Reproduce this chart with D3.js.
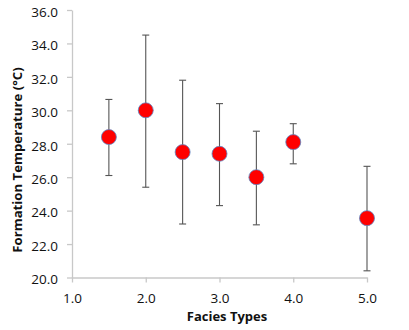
<!DOCTYPE html>
<html><head><meta charset="utf-8">
<script src="https://cdn.jsdelivr.net/npm/d3@7"></script>
<style>body{margin:0;background:#fff}svg{display:block}</style>
</head><body>
<svg id="c" width="409" height="330"></svg>
<script>
const facies = [1.5, 2.0, 2.5, 3.0, 3.5, 4.0, 5.0];
const temps  = [28.4, 30.0, 27.5, 27.4, 26.0, 28.1, 23.55];
const upper  = [30.65, 34.5, 31.8, 30.4, 28.75, 29.2, 26.65];
const lower  = [26.1, 25.4, 23.2, 24.3, 23.15, 26.8, 20.4];
const xTicks = [1.0, 2.0, 3.0, 4.0, 5.0];
const yTicks = [20, 22, 24, 26, 28, 30, 32, 34, 36];

const svg = d3.select("#c");
const font = "'Open Sans', 'Noto Sans', sans-serif";
const x = d3.scaleLinear().domain([1, 5]).range([72, 367]);
const y = d3.scaleLinear().domain([20, 36]).range([277.5, 10]);

const yAxis = svg.append("g").attr("transform", "translate(72,0)")
  .call(d3.axisLeft(y).tickValues(yTicks).tickSize(5).tickSizeOuter(0).tickPadding(9).tickFormat(d3.format(".1f")));
const xAxis = svg.append("g").attr("transform", "translate(0,277.5)")
  .call(d3.axisBottom(x).tickValues(xTicks).tickSize(5).tickSizeOuter(0).tickPadding(11).tickFormat(d3.format(".1f")));
[yAxis, xAxis].forEach(a => {
  a.selectAll("path,line").attr("stroke", "#c8c8c8").attr("stroke-width", 1.3);
  a.selectAll("text").attr("fill", "#111").style("font-family", font).style("font-size", "13.5px");
});
yAxis.selectAll("text").attr("dy", "0.47em");

const g = svg.append("g");
facies.forEach((f, i) => {
  const cx = x(f);
  g.append("line").attr("x1", cx).attr("x2", cx).attr("y1", y(upper[i])).attr("y2", y(lower[i]))
    .attr("stroke", "#555").attr("stroke-width", 1.1);
  [upper[i], lower[i]].forEach(v => {
    g.append("line").attr("x1", cx - 3.5).attr("x2", cx + 3.5).attr("y1", y(v)).attr("y2", y(v))
      .attr("stroke", "#555").attr("stroke-width", 1.1);
  });
});
g.selectAll("circle").data(facies).join("circle")
  .attr("cx", d => x(d)).attr("cy", (d, i) => y(temps[i])).attr("r", 7.5)
  .attr("fill", "#ff0000").attr("stroke", "#5b86c5").attr("stroke-width", 0.8);

svg.append("text").attr("x", 227).attr("y", 321).attr("text-anchor", "middle")
  .style("font-family", font).style("font-size", "13px").style("font-weight", "bold").attr("fill", "#111")
  .text("Facies Types");
svg.append("text").attr("transform", "translate(22,160) rotate(-90)").attr("text-anchor", "middle")
  .style("font-family", font).style("font-size", "13.2px").style("font-weight", "bold").attr("fill", "#111")
  .text("Formation Temperature (°C)");
</script>
</body></html>
